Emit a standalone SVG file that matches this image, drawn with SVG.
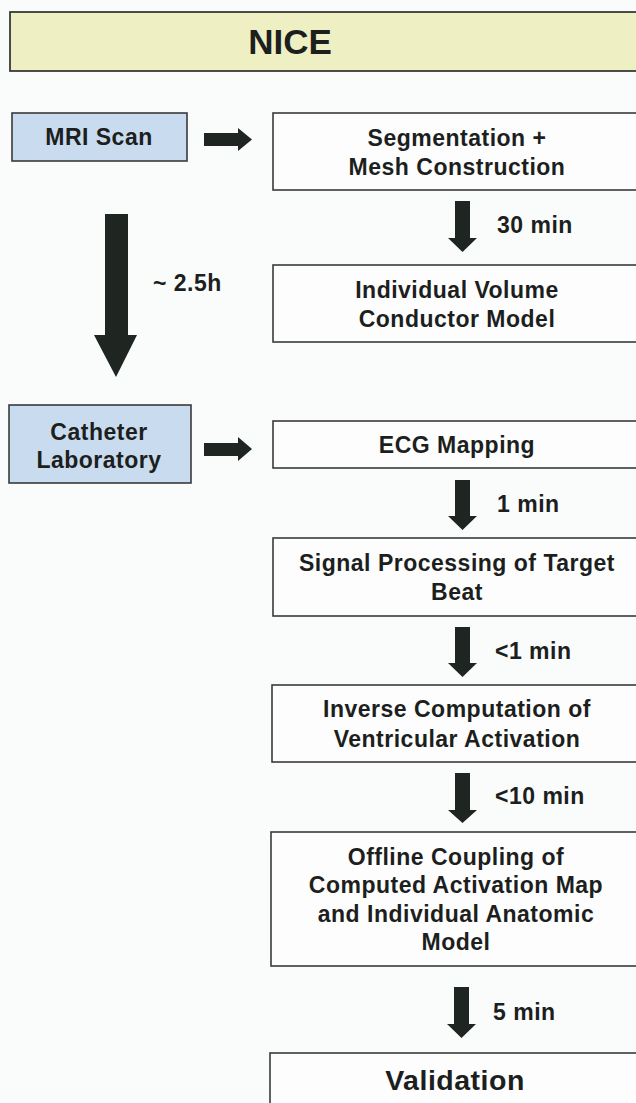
<svg xmlns="http://www.w3.org/2000/svg" width="636" height="1103" viewBox="0 0 636 1103">
<style>
.bg{fill:#fafbfb}
.box{fill:#fdfdfd;stroke:#3a3a3a;stroke-width:1.6}
.blue{fill:#c9dbee;stroke:#3a3a3a;stroke-width:1.6}
.title{fill:#eef0c4;stroke:#3a3a3a;stroke-width:1.8}
.t{font-family:"Liberation Sans",Arial,sans-serif;font-weight:bold;font-size:23px;fill:#1c1f1d;text-anchor:middle;letter-spacing:0.5px}
.lab{font-family:"Liberation Sans",Arial,sans-serif;font-weight:bold;font-size:23px;fill:#1c1f1d;letter-spacing:0.5px}
.arr{fill:#1f2521}
</style>
<rect class="bg" x="0" y="0" width="636" height="1103"/>
<g id="title">
<rect class="title" x="10" y="12" width="640" height="59"/>
<text class="t" x="290" y="54" style="font-size:35px;letter-spacing:0">NICE</text>
</g>
<g id="mri">
<rect class="blue" x="12" y="113" width="175" height="48"/>
<text class="t" x="99" y="145">MRI Scan</text>
</g>
<g id="segmentation">
<rect class="box" x="273" y="113" width="400" height="77"/>
<text class="t" x="457" y="146">Segmentation +</text>
<text class="t" x="457" y="175">Mesh Construction</text>
</g>
<g id="volume">
<rect class="box" x="273" y="265" width="400" height="77"/>
<text class="t" x="457" y="298">Individual Volume</text>
<text class="t" x="457" y="327">Conductor Model</text>
</g>
<g id="catheter">
<rect class="blue" x="9" y="405" width="182" height="78"/>
<text class="t" x="99" y="440">Catheter</text>
<text class="t" x="99" y="468">Laboratory</text>
</g>
<g id="ecg">
<rect class="box" x="273" y="421" width="400" height="47"/>
<text class="t" x="457" y="453">ECG Mapping</text>
</g>
<g id="signal">
<rect class="box" x="273" y="538" width="400" height="78"/>
<text class="t" x="457" y="571">Signal Processing of Target</text>
<text class="t" x="457" y="600">Beat</text>
</g>
<g id="inverse">
<rect class="box" x="272" y="685" width="400" height="77"/>
<text class="t" x="457" y="717">Inverse Computation of</text>
<text class="t" x="457" y="747">Ventricular Activation</text>
</g>
<g id="offline">
<rect class="box" x="271" y="832" width="400" height="134"/>
<text class="t" x="456" y="865">Offline Coupling of</text>
<text class="t" x="456" y="893">Computed Activation Map</text>
<text class="t" x="456" y="922">and Individual Anatomic</text>
<text class="t" x="456" y="950">Model</text>
</g>
<g id="validation">
<rect class="box" x="270" y="1053" width="400" height="70"/>
<text class="t" x="455" y="1090" style="font-size:28.5px">Validation</text>
</g>
<g id="connectors">
<path class="arr" d="M204,133 H238 V128 L252,139.5 L238,151 V146 H204 Z"/>
<path class="arr" d="M204,443 H238 V437 L252,449 L238,461 V456 H204 Z"/>
<path class="arr" d="M105,214 H128 V335 H137 L116,377 L94,335 H105 Z"/>
<path class="arr" d="M455,201 H470 V238 H477 L462.5,252 L448,238 H455 Z"/>
<path class="arr" d="M455,480 H470 V516 H477 L462.5,530 L448,516 H455 Z"/>
<path class="arr" d="M455,627 H470 V663 H477 L462.5,677 L448,663 H455 Z"/>
<path class="arr" d="M455,773 H470 V810 H477 L462.5,823 L448,810 H455 Z"/>
<path class="arr" d="M454,987 H469 V1024 H476 L461.5,1038 L447,1024 H454 Z"/>
<text class="lab" x="153" y="291">~ 2.5h</text>
<text class="lab" x="497" y="233">30 min</text>
<text class="lab" x="497" y="512">1 min</text>
<text class="lab" x="495" y="659">&lt;1 min</text>
<text class="lab" x="495" y="804">&lt;10 min</text>
<text class="lab" x="493" y="1020">5 min</text>
</g>
</svg>
